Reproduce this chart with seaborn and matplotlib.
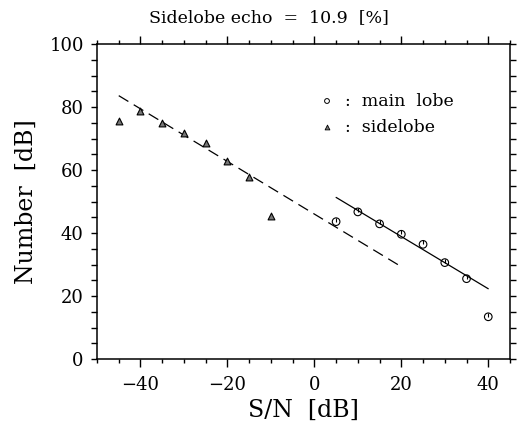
import numpy as np
import pandas as pd
import matplotlib
matplotlib.use("Agg")
import matplotlib.pyplot as plt
from matplotlib.ticker import MultipleLocator
import seaborn as sns

# ---- data ----
main_x = [5, 10, 15, 20, 25, 30, 35, 40]
main_y = [43.6, 46.7, 42.9, 39.6, 36.4, 30.6, 25.5, 13.4]
side_x = [-45, -40, -35, -30, -25, -20, -15, -10]
side_y = [75.7, 78.8, 75.0, 71.8, 68.5, 62.9, 57.9, 45.5]
# fit lines (end values)
main_fit_x = [5, 40]
main_fit_y = [51.3, 22.3]
side_fit_x = [-45, 20]
side_fit_y = [83.6, 29.3]
title_text = "Sidelobe echo  =  10.9  [%]"
xlabel_text = "S/N  [dB]"
ylabel_text = "Number  [dB]"

sns.set_style("ticks")
plt.rcParams['font.family'] = ['DejaVu Serif']
plt.rcParams['mathtext.fontset'] = 'dejavuserif'
plt.rcParams['text.color'] = 'black'
plt.rcParams['axes.labelcolor'] = 'black'
plt.rcParams['xtick.color'] = 'black'
plt.rcParams['ytick.color'] = 'black'

fig = plt.figure(figsize=(5.17, 4.32), dpi=100)
ax = fig.add_axes([97/517, 73/432, 413/517, 315/432])

df_main = pd.DataFrame({"x": main_x, "y": main_y})
df_side = pd.DataFrame({"x": side_x, "y": side_y})

sns.lineplot(x=side_fit_x, y=side_fit_y, ax=ax, color="black", lw=0.9,
             dashes=False, linestyle=(0, (9, 5)))
sns.lineplot(x=main_fit_x, y=main_fit_y, ax=ax, color="black", lw=0.9)

sns.scatterplot(data=df_side, x="x", y="y", ax=ax, marker="^", s=24,
                color="#777777", edgecolor="black", linewidth=0.8, zorder=3)
sns.scatterplot(data=df_main, x="x", y="y", ax=ax, marker="o", s=30,
                facecolor="none", edgecolor="black", linewidth=0.8, zorder=3)
ax.scatter(main_x, [v + 0.6 for v in main_y], marker="|", s=10,
           color="black", linewidth=0.8, zorder=4)

# legend
lx, ly1, ly2 = 327, 101, 127
def px2ax(px, py):
    return ((px - 97) / 413, (432 - py - 73) / 315)
a1 = px2ax(lx, ly1); a2 = px2ax(lx, ly2)
ax.scatter([a1[0]], [a1[1]], transform=ax.transAxes, marker="o", s=12,
           facecolor="none", edgecolor="black", linewidth=0.7, zorder=5)
ax.scatter([a2[0]], [a2[1]], transform=ax.transAxes, marker="^", s=12,
           color="#777777", edgecolor="black", linewidth=0.6, zorder=5)
t1 = px2ax(345, ly1); t2 = px2ax(345, ly2)
ax.text(t1[0], t1[1], ":  main  lobe", transform=ax.transAxes, fontsize=12.5,
        va="center", ha="left", color="black")
ax.text(t2[0], t2[1], ":  sidelobe", transform=ax.transAxes, fontsize=12.5,
        va="center", ha="left", color="black")

ax.set_xlim(-50, 45)
ax.set_ylim(0, 100)
ax.xaxis.set_major_locator(MultipleLocator(20))
ax.xaxis.set_minor_locator(MultipleLocator(5))
ax.yaxis.set_major_locator(MultipleLocator(20))
ax.yaxis.set_minor_locator(MultipleLocator(5))

ax.tick_params(axis="x", which="major", direction="out", length=6, width=1,
               top=True, bottom=True, labelsize=13, pad=6, colors="black")
ax.tick_params(axis="x", which="minor", direction="out", length=3, width=1,
               top=True, bottom=True, colors="black")
ax.tick_params(axis="y", which="both", direction="out", length=4.5, width=1,
               left=True, right=True, labelsize=13, pad=5, colors="black")

for s in ax.spines.values():
    s.set_visible(True)
    s.set_linewidth(1.1)
    s.set_color("black")

ax.set_xlabel(xlabel_text, fontsize=17, labelpad=4, color="black")
ax.set_ylabel(ylabel_text, fontsize=17, labelpad=8, color="black")
fig.text(269/517, 1 - 18/432, title_text, fontsize=12.5, ha="center",
         va="center", color="black")

fig.savefig("out.png", dpi=100)
